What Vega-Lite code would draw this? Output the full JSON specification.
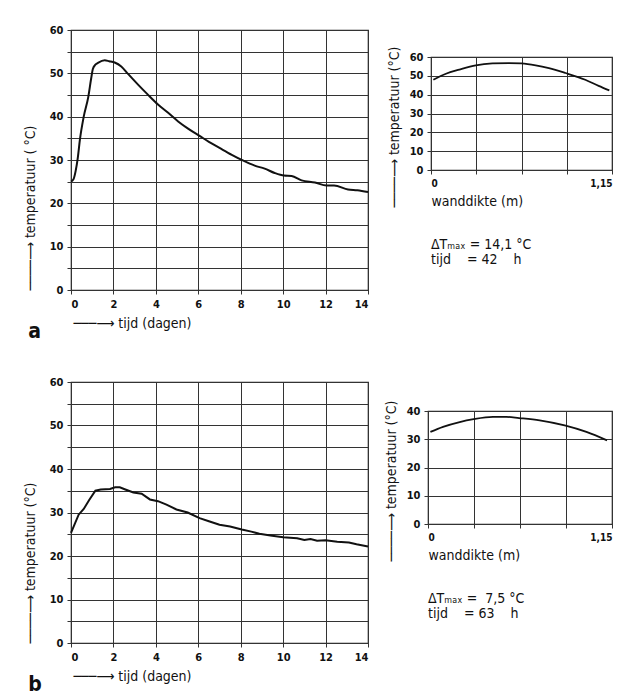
{
  "$schema": "https://vega.github.io/schema/vega-lite/v6.json",
  "padding": {"left": 22, "top": 23, "right": 4, "bottom": 4},
  "background": "white",
  "datasets": {
    "a_main": [
      {"day": 0, "temp": 25.0}, {"day": 0.12, "temp": 25.6}, {"day": 0.22, "temp": 27.5}, {"day": 0.32, "temp": 30.5},
      {"day": 0.42, "temp": 34.7}, {"day": 0.6, "temp": 40.0}, {"day": 0.82, "temp": 44.7}, {"day": 0.95, "temp": 48.8},
      {"day": 1.03, "temp": 51.0}, {"day": 1.15, "temp": 52.0}, {"day": 1.27, "temp": 52.4}, {"day": 1.59, "temp": 53.0},
      {"day": 1.8, "temp": 52.8}, {"day": 2.06, "temp": 52.5}, {"day": 2.37, "temp": 51.6}, {"day": 2.7, "temp": 49.8},
      {"day": 3.16, "temp": 47.4}, {"day": 3.6, "temp": 45.2}, {"day": 4.1, "temp": 42.8}, {"day": 4.55, "temp": 41.0},
      {"day": 5.05, "temp": 38.9}, {"day": 5.5, "temp": 37.3}, {"day": 6.08, "temp": 35.5}, {"day": 6.5, "temp": 34.2},
      {"day": 7.0, "temp": 32.8}, {"day": 7.58, "temp": 31.2}, {"day": 8.1, "temp": 29.9}, {"day": 8.66, "temp": 28.7},
      {"day": 9.13, "temp": 28.0}, {"day": 9.6, "temp": 27.0}, {"day": 10.04, "temp": 26.4}, {"day": 10.4, "temp": 26.3},
      {"day": 10.87, "temp": 25.3}, {"day": 11.5, "temp": 24.8}, {"day": 12.05, "temp": 24.1}, {"day": 12.4, "temp": 24.1},
      {"day": 13.06, "temp": 23.2}, {"day": 13.5, "temp": 23.0}, {"day": 14, "temp": 22.6}
    ],
    "b_main": [
      {"day": 0, "temp": 25.3}, {"day": 0.36, "temp": 29.5}, {"day": 0.6, "temp": 30.8}, {"day": 0.85, "temp": 32.8},
      {"day": 1.15, "temp": 35.0}, {"day": 1.4, "temp": 35.3}, {"day": 1.84, "temp": 35.4}, {"day": 2.08, "temp": 35.8},
      {"day": 2.3, "temp": 35.8}, {"day": 2.56, "temp": 35.3}, {"day": 2.94, "temp": 34.6}, {"day": 3.33, "temp": 34.3},
      {"day": 3.72, "temp": 33.0}, {"day": 4.1, "temp": 32.6}, {"day": 4.5, "temp": 31.8}, {"day": 4.97, "temp": 30.7},
      {"day": 5.5, "temp": 30.0}, {"day": 6.06, "temp": 28.7}, {"day": 6.5, "temp": 28.0}, {"day": 7.0, "temp": 27.2},
      {"day": 7.5, "temp": 26.8}, {"day": 8.05, "temp": 26.1}, {"day": 8.5, "temp": 25.6}, {"day": 8.88, "temp": 25.1},
      {"day": 9.4, "temp": 24.7}, {"day": 10.0, "temp": 24.3}, {"day": 10.66, "temp": 24.1}, {"day": 11.0, "temp": 23.7},
      {"day": 11.29, "temp": 23.9}, {"day": 11.6, "temp": 23.5}, {"day": 12.0, "temp": 23.6}, {"day": 12.55, "temp": 23.3},
      {"day": 13.1, "temp": 23.1}, {"day": 13.46, "temp": 22.7}, {"day": 14.0, "temp": 22.2}
    ],
    "a_wall": [
      {"d": 0.015, "temp": 47.9}, {"d": 0.095, "temp": 51.1}, {"d": 0.18, "temp": 53.3}, {"d": 0.285, "temp": 55.6},
      {"d": 0.39, "temp": 56.6}, {"d": 0.496, "temp": 56.8}, {"d": 0.574, "temp": 56.6}, {"d": 0.665, "temp": 55.6},
      {"d": 0.749, "temp": 54.1}, {"d": 0.854, "temp": 51.5}, {"d": 0.98, "temp": 47.9}, {"d": 1.065, "temp": 44.7},
      {"d": 1.133, "temp": 42.3}
    ],
    "b_wall": [
      {"d": 0.015, "temp": 32.6}, {"d": 0.094, "temp": 34.4}, {"d": 0.198, "temp": 36.1}, {"d": 0.285, "temp": 37.1},
      {"d": 0.406, "temp": 37.9}, {"d": 0.49, "temp": 37.9}, {"d": 0.569, "temp": 37.5}, {"d": 0.698, "temp": 36.7},
      {"d": 0.854, "temp": 34.9}, {"d": 0.99, "temp": 32.6}, {"d": 1.119, "temp": 29.6}
    ],
    "empty": []
  },
  "config": {
    "font": "DejaVu Sans Condensed, DejaVu Sans",
    "view": {"stroke": "#222", "strokeWidth": 1.2},
    "axis": {
      "domain": false,
      "grid": true,
      "gridColor": "#333",
      "gridWidth": 1,
      "gridOpacity": 1,
      "ticks": true,
      "tickColor": "#333",
      "tickSize": 4,
      "labelColor": "#111",
      "labelFontSize": 11,
      "labelFontWeight": "bold",
      "labelPadding": 4,
      "titleColor": "#111",
      "titleFontSize": 14,
      "titleFontWeight": "normal"
    },
    "title": {"color": "#111"}
  },
  "spacing": 32,
  "vconcat": [
    {
      "spacing": 13,
      "hconcat": [
        {
          "width": 297,
          "height": 260,
          "data": {"name": "a_main"},
          "title": {"text": "a", "orient": "bottom", "anchor": "start", "fontSize": 21, "fontWeight": "bold", "offset": -9, "dx": 5},
          "mark": {"type": "line", "color": "#111", "strokeWidth": 2, "interpolate": "monotone"},
          "encoding": {
            "x": {
              "field": "day", "type": "quantitative",
              "scale": {"domain": [0, 14], "nice": false, "zero": false},
              "axis": {"values": [0, 2, 4, 6, 8, 10, 12, 14], "title": "───⟶ tijd (dagen)", "titleAnchor": "start", "titleAlign": "left", "titleX": 2, "titlePadding": 7}
            },
            "y": {
              "field": "temp", "type": "quantitative",
              "scale": {"domain": [0, 60], "nice": false},
              "axis": {"values": [0, 5, 10, 15, 20, 25, 30, 35, 40, 45, 50, 55, 60], "labelExpr": "datum.value % 10 == 0 ? datum.label : ''", "title": "────⟶ temperatuur ( °C)", "titleAnchor": "start", "titlePadding": 12}
            }
          }
        },
        {
          "spacing": 14,
          "vconcat": [
            {
              "width": 1,
              "height": 1,
              "data": {"name": "empty"},
              "mark": {"type": "point", "opacity": 0},
              "view": {"stroke": null}
            },
            {
              "width": 181,
              "height": 113,
              "data": {"name": "a_wall"},
              "title": {"text": ["ΔTₘₐₓ = 14,1 °C", "tijd\u00a0\u00a0\u00a0\u00a0= 42\u00a0\u00a0\u00a0\u00a0h"], "orient": "bottom", "anchor": "start", "frame": "group", "fontSize": 14, "fontWeight": "normal", "lineHeight": 15, "offset": 30},
              "mark": {"type": "line", "color": "#111", "strokeWidth": 1.8, "interpolate": "monotone"},
              "encoding": {
                "x": {
                  "field": "d", "type": "quantitative",
                  "scale": {"domain": [0, 1.15], "nice": false, "zero": false},
                  "axis": {"values": [0, 0.2875, 0.575, 0.8625, 1.15], "labelExpr": "datum.value == 0 ? '0' : (abs(datum.value - 1.15) < 0.001 ? '1,15' : '')", "labelFontSize": 10, "title": "wanddikte (m)", "titleAnchor": "start", "titleAlign": "left", "titleX": 0, "titlePadding": 6}
                },
                "y": {
                  "field": "temp", "type": "quantitative",
                  "scale": {"domain": [0, 60], "nice": false},
                  "axis": {"values": [0, 10, 20, 30, 40, 50, 60], "title": "────⟶ temperatuur (°C)", "titleAlign": "left", "titleY": 150, "titlePadding": 8}
                }
              }
            }
          ]
        }
      ]
    },
    {
      "spacing": 10,
      "hconcat": [
        {
          "width": 297,
          "height": 261,
          "data": {"name": "b_main"},
          "title": {"text": "b", "orient": "bottom", "anchor": "start", "fontSize": 21, "fontWeight": "bold", "offset": -9, "dx": 5},
          "mark": {"type": "line", "color": "#111", "strokeWidth": 2},
          "encoding": {
            "x": {
              "field": "day", "type": "quantitative",
              "scale": {"domain": [0, 14], "nice": false, "zero": false},
              "axis": {"values": [0, 2, 4, 6, 8, 10, 12, 14], "title": "───⟶ tijd (dagen)", "titleAnchor": "start", "titleAlign": "left", "titleX": 2, "titlePadding": 7}
            },
            "y": {
              "field": "temp", "type": "quantitative",
              "scale": {"domain": [0, 60], "nice": false},
              "axis": {"values": [0, 5, 10, 15, 20, 25, 30, 35, 40, 45, 50, 55, 60], "labelExpr": "datum.value % 10 == 0 ? datum.label : ''", "title": "────⟶ temperatuur (°C)", "titleAnchor": "start", "titlePadding": 12}
            }
          }
        },
        {
          "spacing": 16,
          "vconcat": [
            {
              "width": 1,
              "height": 1,
              "data": {"name": "empty"},
              "mark": {"type": "point", "opacity": 0},
              "view": {"stroke": null}
            },
            {
              "width": 184,
              "height": 113,
              "data": {"name": "b_wall"},
              "title": {"text": ["ΔTₘₐₓ =\u00a0\u00a07,5 °C", "tijd\u00a0\u00a0\u00a0\u00a0= 63\u00a0\u00a0\u00a0\u00a0h"], "orient": "bottom", "anchor": "start", "frame": "group", "fontSize": 14, "fontWeight": "normal", "lineHeight": 15, "offset": 30},
              "mark": {"type": "line", "color": "#111", "strokeWidth": 1.8, "interpolate": "monotone"},
              "encoding": {
                "x": {
                  "field": "d", "type": "quantitative",
                  "scale": {"domain": [0, 1.15], "nice": false, "zero": false},
                  "axis": {"values": [0, 0.2875, 0.575, 0.8625, 1.15], "labelExpr": "datum.value == 0 ? '0' : (abs(datum.value - 1.15) < 0.001 ? '1,15' : '')", "labelFontSize": 10, "title": "wanddikte (m)", "titleAnchor": "start", "titleAlign": "left", "titleX": 0, "titlePadding": 6}
                },
                "y": {
                  "field": "temp", "type": "quantitative",
                  "scale": {"domain": [0, 40], "nice": false},
                  "axis": {"values": [0, 10, 20, 30, 40], "title": "────⟶ temperatuur (°C)", "titleAlign": "left", "titleY": 150, "titlePadding": 8}
                }
              }
            }
          ]
        }
      ]
    }
  ]
}
